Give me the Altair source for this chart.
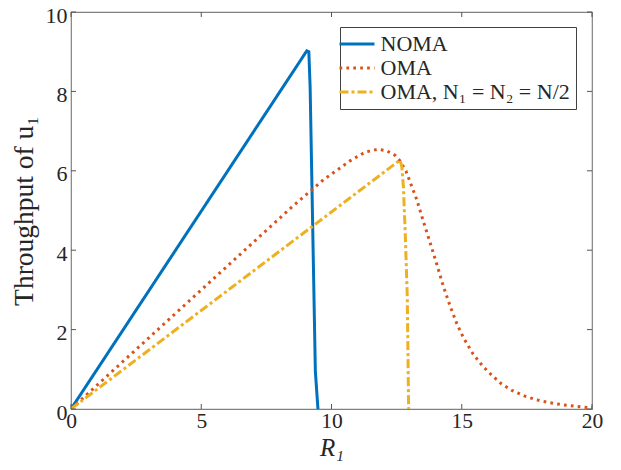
import altair as alt
import pandas as pd

# ---- data ----
series_names = ["NOMA", "OMA", "OMA, N₁ = N₂ = N/2"]
series_colors = ["#0072BD", "#D95319", "#EDB120"]
series_dashes = [[1, 0], [2.7, 4.2], [9, 3, 3, 3]]

noma_r = [0, 9.05, 9.13, 9.18, 9.38, 9.48]
noma_t = [0, 9.02, 9.0, 8.1, 0.95, 0.0]

oma_r = [0, 3, 6, 8.5, 9.3, 9.7, 10.07, 10.71, 11.29, 11.77, 12.1, 12.44, 12.63,
         12.86, 13.27, 13.52, 13.78, 14.04, 14.29, 14.55, 14.81, 15.06, 15.44,
         15.83, 16.17, 16.53, 16.95, 17.4, 17.88, 18.36, 18.84, 19.35, 19.82, 20]
oma_t = [0, 1.8, 3.6, 5.1, 5.55, 5.78, 5.95, 6.25, 6.47, 6.54, 6.51, 6.39, 6.25,
         5.99, 5.28, 4.74, 4.2, 3.65, 3.1, 2.6, 2.15, 1.8, 1.38,
         1.06, 0.84, 0.63, 0.46, 0.33, 0.23, 0.16, 0.11, 0.07, 0.04, 0.035]

half_r = [0, 12.63, 12.7, 12.76, 12.83, 12.91, 12.96]
half_t = [0, 6.27, 6.1, 5.6, 4.45, 2.8, 0.0]

x_ticks = [0, 5, 10, 15, 20]
y_ticks = [0, 2, 4, 6, 8, 10]

rows = []
for name, rs, ts in zip(series_names, [noma_r, oma_r, half_r], [noma_t, oma_t, half_t]):
    for i, (r, t) in enumerate(zip(rs, ts)):
        rows.append({"series": name, "R1": r, "T": t, "i": i})
df = pd.DataFrame(rows)

W, H = 521, 397
FONT = "Liberation Serif"
AX = "#808080"
TXT = "#262626"

xscale = alt.Scale(domain=[0, 20], nice=False, zero=False)
yscale = alt.Scale(domain=[0, 10], nice=False, zero=False)

xaxis = alt.Axis(values=x_ticks, title="R₁", grid=False, ticks=False, domain=False,
                 labelFont=FONT, labelFontSize=21.5, labelColor=TXT, labelPadding=1,
                 labelFlush=False, labelOverlap=False,
                 titleFont=FONT, titleFontSize=25, titleFontStyle="italic",
                 titleFontWeight="normal", titleColor=TXT,
                 titleX=W / 2, titleY=38.5, titleBaseline="middle", titleAlign="center")
yaxis = alt.Axis(values=y_ticks, title="Throughput of u₁", grid=False, ticks=False,
                 domain=False, labelFont=FONT, labelFontSize=22, labelColor=TXT,
                 labelPadding=4, labelOffset=3, labelFlush=False, labelOverlap=False,
                 titleFont=FONT, titleFontSize=27.5, titleFontWeight="normal",
                 titleColor=TXT, titleX=-47, titleY=H / 2, titleAngle=270,
                 titleBaseline="middle", titleAlign="center")

lines = alt.Chart(df).mark_line(strokeWidth=3, clip=True, strokeCap="butt").encode(
    x=alt.X("R1:Q", scale=xscale, axis=xaxis),
    y=alt.Y("T:Q", scale=yscale, axis=yaxis),
    color=alt.Color("series:N", scale=alt.Scale(domain=series_names, range=series_colors),
                    legend=alt.Legend(title=None)),
    strokeDash=alt.StrokeDash("series:N",
                              scale=alt.Scale(domain=series_names, range=series_dashes),
                              legend=alt.Legend(title=None)),
    order="i:Q",
)

xt = pd.DataFrame({"R1": x_ticks})
yt = pd.DataFrame({"T": y_ticks})
tick_color = "#555555"

bottom_ticks = alt.Chart(xt).mark_rule(color=tick_color, strokeWidth=1).encode(
    x=alt.X("R1:Q", scale=xscale, axis=xaxis), y=alt.value(H), y2=alt.value(H - 5))
top_ticks = alt.Chart(xt).mark_rule(color=tick_color, strokeWidth=1).encode(
    x=alt.X("R1:Q", scale=xscale, axis=xaxis), y=alt.value(0), y2=alt.value(5))
left_ticks = alt.Chart(yt).mark_rule(color=tick_color, strokeWidth=1).encode(
    y=alt.Y("T:Q", scale=yscale, axis=yaxis), x=alt.value(0), x2=alt.value(5))
right_ticks = alt.Chart(yt).mark_rule(color=tick_color, strokeWidth=1).encode(
    y=alt.Y("T:Q", scale=yscale, axis=yaxis), x=alt.value(W), x2=alt.value(W - 5))

chart = alt.layer(lines, bottom_ticks, top_ticks, left_ticks, right_ticks).properties(
    width=W, height=H,
    autosize=alt.AutoSizeParams(type="none"),
    padding={"left": 63, "top": 4, "right": 21, "bottom": 53},
).configure_view(
    stroke=AX, strokeWidth=1.2
).configure_legend(
    orient="none", legendX=269, legendY=15,
    padding=6, strokeColor="#404040", fillColor="white", cornerRadius=0,
    symbolType="M-3,0H3", symbolSize=136, symbolStrokeWidth=3,
    labelFont=FONT, labelFontSize=22, labelColor=TXT, labelOffset=12.5, labelLimit=400,
    rowPadding=2, symbolOffset=0,
)

chart.save("out.html", embed_options={"renderer": "svg", "actions": False})
